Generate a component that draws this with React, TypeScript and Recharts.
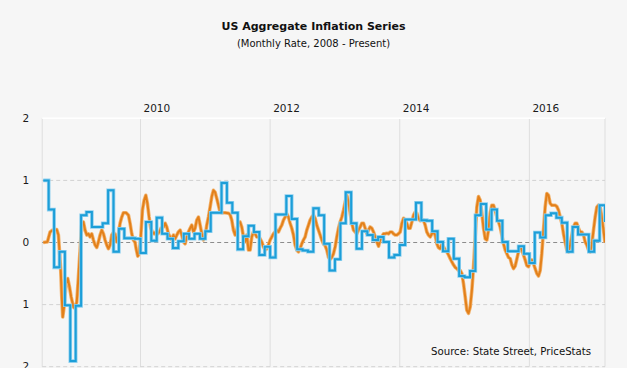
import React from "react";
import { LineChart, Line, XAxis, YAxis, CartesianGrid, ReferenceLine } from "recharts";

// Months since Jan 2008 (index 24 = Jan 2010)
const cpiStartMonth = 6;
const cpiValues = [
  1.0, 0.53, -0.4, -0.15, -1.01, -1.91, -1.02, 0.44, 0.49, 0.25, 0.25, 0.31, 0.84, -0.15, 0.22, 0.07,
  0.07, 0.06, -0.17, 0.33, 0.03, 0.4, 0.14, 0.06, -0.09, 0.02, 0.14, 0.06, 0.14, 0.06, 0.18, 0.48,
  0.48, 0.96, 0.64, 0.48, -0.11, 0.1, 0.27, 0.17, -0.2, -0.07, -0.24, 0.45, 0.45, 0.75, 0.38, -0.11,
  -0.13, -0.15, 0.55, 0.44, -0.02, -0.45, -0.27, 0.31, 0.81, 0.31, -0.1, 0.18, 0.12, 0.04, 0.09, 0.01,
  -0.24, -0.2, -0.04, 0.37, 0.37, 0.64, 0.36, 0.35, 0.18, 0.01, -0.14, 0.06, -0.26, -0.54, -0.56, -0.46,
  0.44, 0.62, 0.21, 0.53, 0.35, 0.01, -0.14, -0.14, -0.06, -0.18, -0.33, 0.16, 0.08, 0.44, 0.47, 0.4,
  0.32, -0.15, 0.25, 0.13, 0.13, -0.15, 0.03, 0.6, 0.33,
];

// PriceStats daily series, sampled: [month since Jan 2008, monthly rate]
const priceStats: [number, number][] = [
  [6.0,0.0],[6.76,0.01],[7.26,0.17],[7.75,0.20],[8.49,0.21],[8.80,0.12],[8.99,-0.12],[9.23,-0.45],[9.42,-0.87],[9.60,-1.20],[9.85,-1.04],[10.22,-0.66],[10.53,-0.58],[10.84,-0.71],[11.15,-0.87],[11.58,-1.04],[11.89,-1.06],[12.20,-0.96],[12.51,-0.55],[12.81,-0.12],[13.12,0.28],[13.43,0.33],[13.74,0.20],[14.05,0.12],[14.36,0.14],[14.67,0.09],[14.97,0.14],[15.28,0.04],[15.59,-0.04],[15.90,-0.08],[16.21,0.01],[16.52,0.12],[16.83,0.20],[17.14,0.14],[17.44,0.04],[17.75,-0.04],[18.06,-0.10],[18.37,-0.04],[18.68,0.12],[18.99,0.16],[19.30,0.13],[19.60,0.01],[19.91,0.14],[20.22,0.31],[20.53,0.41],[20.84,0.48],[21.33,0.48],[21.77,0.44],[22.07,0.31],[22.38,0.14],[22.69,0.04],[23.0,0.0],[23.19,-0.10],[23.49,-0.22],[23.74,-0.18],[24.05,0.09],[24.36,0.52],[24.67,0.68],[24.98,0.76],[25.28,0.63],[25.59,0.41],[25.90,0.23],[26.21,0.17],[26.52,0.14],[26.83,0.17],[27.20,0.14],[27.51,0.17],[27.81,0.23],[28.25,0.25],[28.56,0.31],[28.86,0.25],[29.17,0.14],[29.48,0.09],[29.79,0.04],[30.10,0.12],[30.41,0.06],[30.72,0.12],[31.02,0.17],[31.33,0.20],[31.64,0.12],[31.95,0.01],[32.26,-0.02],[32.57,0.09],[32.88,0.17],[33.19,0.23],[33.49,0.28],[33.80,0.17],[34.11,0.23],[34.42,0.36],[34.73,0.41],[35.04,0.28],[35.35,0.14],[35.65,0.04],[35.96,0.09],[36.27,0.28],[36.58,0.41],[36.89,0.57],[37.20,0.74],[37.51,0.84],[37.81,0.81],[38.12,0.71],[38.43,0.60],[38.74,0.49],[39.05,0.48],[39.67,0.48],[40.28,0.47],[40.59,0.45],[40.90,0.36],[41.21,0.20],[41.52,0.12],[41.82,0.20],[42.13,0.31],[42.44,0.33],[42.75,0.25],[43.06,0.09],[43.37,0.01],[43.68,0.12],[43.99,-0.12],[44.29,-0.12],[44.60,0.09],[44.91,0.17],[45.22,0.14],[45.53,0.09],[45.84,0.09],[46.15,0.06],[46.45,0.01],[46.76,-0.07],[47.07,-0.12],[47.38,-0.10],[47.69,-0.04],[48.0,0.04],[48.31,0.09],[48.61,0.14],[48.92,0.17],[49.23,0.20],[49.54,0.17],[49.85,0.23],[50.16,0.28],[50.47,0.36],[50.78,0.41],[51.08,0.46],[51.39,0.41],[51.70,0.31],[52.01,0.23],[52.32,0.12],[52.63,-0.04],[52.94,-0.12],[53.24,-0.15],[53.55,-0.10],[53.86,-0.02],[54.17,0.04],[54.48,0.09],[54.79,0.20],[55.10,0.28],[55.40,0.36],[55.71,0.41],[56.02,0.44],[56.33,0.39],[56.64,0.28],[56.95,0.20],[57.26,0.12],[57.57,0.04],[57.87,-0.02],[58.18,-0.05],[58.49,-0.12],[58.81,-0.24],[59.12,-0.27],[59.42,-0.24],[59.73,-0.18],[60.04,-0.07],[60.35,0.09],[60.66,0.23],[60.97,0.33],[61.28,0.41],[61.59,0.52],[61.89,0.65],[62.20,0.76],[62.51,0.65],[62.82,0.47],[63.13,0.31],[63.44,0.20],[63.75,0.17],[64.05,0.14],[64.36,0.20],[64.67,0.25],[64.98,0.31],[65.29,0.31],[65.60,0.23],[65.91,0.14],[66.21,0.20],[66.52,0.25],[66.83,0.23],[67.14,0.17],[67.45,0.09],[67.76,0.01],[68.07,-0.06],[68.38,0.04],[68.68,0.09],[68.99,0.14],[69.30,0.14],[69.61,0.15],[69.92,0.14],[70.23,0.17],[70.54,0.17],[70.84,0.14],[71.15,0.12],[71.46,0.12],[71.77,0.14],[72.08,0.17],[72.39,0.31],[72.70,0.39],[73.0,0.36],[73.31,0.31],[73.62,0.23],[73.93,0.23],[74.24,0.33],[74.55,0.44],[74.86,0.49],[75.17,0.47],[75.47,0.39],[75.78,0.35],[76.09,0.36],[76.40,0.36],[76.71,0.28],[77.01,0.17],[77.32,0.12],[77.63,0.09],[77.94,0.14],[78.25,0.17],[78.56,0.12],[78.87,-0.02],[79.17,-0.08],[79.48,-0.10],[79.79,-0.03],[80.10,-0.07],[80.41,-0.12],[80.72,-0.15],[81.03,-0.20],[81.34,-0.26],[81.64,-0.31],[81.95,-0.36],[82.26,-0.40],[82.57,-0.42],[82.88,-0.45],[83.19,-0.45],[83.50,-0.50],[83.80,-0.66],[84.11,-0.87],[84.42,-1.09],[84.73,-1.14],[85.04,-1.04],[85.35,-0.77],[85.66,-0.39],[85.97,0.09],[86.27,0.57],[86.58,0.74],[86.89,0.68],[87.20,0.47],[87.51,0.23],[87.82,0.06],[88.13,0.04],[88.43,0.20],[88.74,0.47],[89.05,0.60],[89.36,0.60],[89.67,0.52],[89.98,0.41],[90.29,0.33],[90.59,0.25],[90.90,0.12],[91.21,-0.02],[91.52,-0.12],[91.83,-0.18],[92.14,-0.24],[92.45,-0.26],[92.75,-0.36],[93.06,-0.42],[93.37,-0.38],[93.67,-0.27],[93.98,-0.15],[94.29,-0.07],[94.60,-0.12],[94.91,-0.20],[95.22,-0.28],[95.53,-0.37],[95.84,-0.39],[96.14,-0.31],[96.45,-0.28],[96.76,-0.34],[97.07,-0.42],[97.38,-0.50],[97.69,-0.54],[98.0,-0.45],[98.30,-0.18],[98.61,0.20],[98.92,0.57],[99.23,0.79],[99.54,0.76],[99.85,0.63],[100.16,0.60],[100.46,0.60],[100.77,0.60],[101.08,0.58],[101.39,0.52],[101.70,0.41],[102.01,0.31],[102.32,0.14],[102.62,0.01],[102.93,-0.12],[103.24,-0.15],[103.55,-0.04],[103.86,0.12],[104.17,0.25],[104.48,0.31],[104.78,0.31],[105.09,0.23],[105.40,0.17],[105.71,0.17],[106.02,0.12],[106.33,0.01],[106.63,-0.04],[106.94,-0.12],[107.25,-0.15],[107.56,-0.04],[107.87,0.20],[108.18,0.41],[108.49,0.57],[108.79,0.60],[109.10,0.57],[109.41,0.41],[109.72,0.20],[110.0,0.0],
];

const xTicks = [24, 48, 72, 96];
const yTicks = [-2, -1, 0, 1, 2];
const xDomain = [5.8, 110];

const title = "US Aggregate Inflation Series";
const subtitle = "(Monthly Rate, 2008 - Present)";
const source = "Source: State Street, PriceStats";

const cpiData = cpiValues.map((v, i) => ({ m: cpiStartMonth + i, v }));
const psData = priceStats.map(([m, v]) => ({ m, v }));

const FONT = "'DejaVu Sans', Verdana, sans-serif";
const BLUE = "#1c9ed8";
const ORANGE = "#e3801a";

const XTick = (props: any) => {
  const { x, y, payload } = props;
  return (
    <text x={x + 3} y={y} fontSize={10.5} fill="#1a1a1a" fontFamily={FONT} textAnchor="start">
      {2008 + payload.value / 12}
    </text>
  );
};

const YTick = (props: any) => {
  const { x, y, payload } = props;
  return (
    <text x={x} y={y} dy="0.36em" fontSize={10.5} fill="#1a1a1a" fontFamily={FONT} textAnchor="end">
      {Math.abs(payload.value)}
    </text>
  );
};

export default function App() {
  return (
    <div
      style={{
        position: "absolute",
        left: 0,
        top: 0,
        width: 627,
        height: 368,
        background: "#f6f6f6",
        overflow: "hidden",
        fontFamily: FONT,
      }}
    >
      <div style={{ position: "absolute", left: 0, width: 627, top: 19, textAlign: "center", fontSize: 11, fontWeight: "bold", color: "#111", lineHeight: "16px" }}>
        {title}
      </div>
      <div style={{ position: "absolute", left: 0, width: 627, top: 37, textAlign: "center", fontSize: 10, color: "#111", lineHeight: "14px" }}>
        {subtitle}
      </div>
      <LineChart width={627} height={368} margin={{ top: 0, right: 22, bottom: 1.3, left: 0 }}>
        <CartesianGrid vertical horizontal={false} stroke="#dedede" />
        <XAxis
          xAxisId={0}
          type="number"
          dataKey="m"
          orientation="top"
          domain={xDomain}
          ticks={xTicks}
          interval={0}
          height={118.3}
          axisLine={false}
          tickLine={false}
          tickSize={0}
          tickMargin={6}
          tick={<XTick />}
          allowDataOverflow
        />
        <YAxis
          type="number"
          domain={[-2, 2]}
          ticks={yTicks}
          interval={0}
          width={42.2}
          axisLine={false}
          tickLine={false}
          tickSize={0}
          tickMargin={13}
          tick={<YTick />}
          allowDataOverflow
        />
        <ReferenceLine y={2} stroke="#ffffff" strokeWidth={1.5} />
        <ReferenceLine y={1} stroke="#d2d2d2" strokeDasharray="4 3" />
        <ReferenceLine y={-1} stroke="#d2d2d2" strokeDasharray="4 3" />
        <ReferenceLine y={-2} stroke="#d2d2d2" strokeDasharray="4 3" />
        <ReferenceLine y={0} stroke="#8c8c8c" strokeDasharray="4 3" />
        <Line data={psData} dataKey="v" type="linear" stroke="#f2b36e" strokeWidth={3.6} dot={false} isAnimationActive={false} strokeLinejoin="round" />
        <Line data={psData} dataKey="v" type="linear" stroke={ORANGE} strokeWidth={2} dot={false} isAnimationActive={false} strokeLinejoin="round" />
        <Line data={cpiData} dataKey="v" type="stepAfter" stroke="#8fd0ef" strokeWidth={3.6} dot={false} isAnimationActive={false} />
        <Line data={cpiData} dataKey="v" type="stepAfter" stroke={BLUE} strokeWidth={2} dot={false} isAnimationActive={false} />
      </LineChart>
      <div style={{ position: "absolute", left: 431, top: 345, fontSize: 10.2, color: "#111", lineHeight: "14px", whiteSpace: "nowrap" }}>
        {source}
      </div>
    </div>
  );
}
